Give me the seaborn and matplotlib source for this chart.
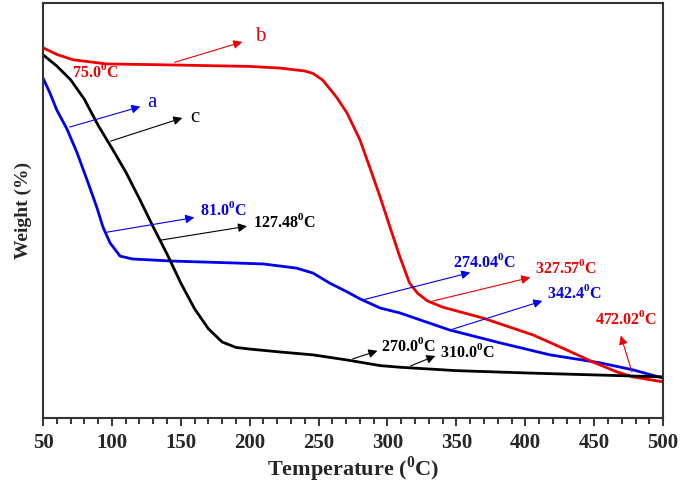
import numpy as np
import pandas as pd
import matplotlib
matplotlib.use('Agg')
import matplotlib.pyplot as plt
from matplotlib.ticker import MultipleLocator
import seaborn as sns

# TGA curves (temperature in C, weight on an arbitrary % scale)
temp_a = [50, 55, 60, 67.4, 74.7, 82, 89, 93.5, 98.6, 105.9, 115, 144, 193, 210, 234, 246, 258,
          270.6, 280, 294.6, 309, 345, 381.6, 418, 454, 478, 500]
weight_a = [81.9, 78.3, 74.2, 69.6, 63.9, 57.3, 50.8, 46.0, 42.2, 39.0, 38.3, 37.8, 37.3, 37.1, 36.1, 34.9, 32.5,
            30.4, 28.7, 26.5, 25.3, 21.2, 18.1, 15.2, 13.3, 11.6, 9.6]

temp_b = [50, 60, 71.8, 96, 135, 200, 222, 240, 246, 253, 263, 270.6, 280, 287, 294.6, 301.8, 309, 316, 322,
          329, 340, 369, 405.6, 430, 449, 466.5, 478, 500]
weight_b = [89.2, 87.6, 86.3, 85.3, 85.1, 84.7, 84.3, 83.6, 83.0, 81.4, 77.3, 73.5, 67.0, 60.5, 53.3, 46.0, 38.8, 32.5, 30.0,
            28.2, 26.7, 24.1, 20.0, 16.4, 13.5, 11.1, 9.9, 8.7]

temp_c = [50, 60, 70, 80, 90, 100, 110, 120, 130, 140, 150, 160, 170, 180, 190, 200, 222, 246, 270,
          295, 310, 350, 405, 500]
weight_c = [87.5, 84.8, 81.5, 76.8, 70.5, 65.0, 59.3, 52.8, 46.0, 39.5, 32.5, 26.3, 21.5, 18.3, 17.0, 16.6, 15.9, 15.2, 14.0,
            12.6, 12.2, 11.4, 10.8, 9.9]

curve_colors = {'a': '#0000ee', 'b': '#ee0000', 'c': '#000000'}

# sample labels with their arrows
label_text = ['b', 'a', 'c']
label_pos = [(203.9, 91.8), (125.5, 75.9), (156.7, 72.5)]
label_tail = [(143.6, 85.5), (67.4, 69.9), (97.2, 66.5)]
label_head = [(196.6, 90.8), (122.6, 75.2), (153.0, 72.5)]
label_color = ['b', 'a', 'c']

# temperature labels with their arrows
temp_text = ['81.0', '127.48', '274.04', '327.57', '342.4', '270.0', '310.0']
temp_pos = [(164, 50.1), (202.4, 47.2), (347.5, 37.6), (407, 36.1), (415.7, 30.1), (295.3, 17.3), (338, 15.9)]
temp_tail = [(93.5, 44.6), (132.7, 42.7), (281.5, 28.4), (330.8, 28.0), (345.4, 21.2), (272.8, 14.0), (314.9, 12.3)]
temp_head = [(161.8, 48.4), (200, 46.3), (362, 35.2), (405.6, 34.0), (414.3, 28.4), (294.6, 16.4), (336.6, 15.2)]
temp_color = ['a', 'c', 'a', 'b', 'a', 'c', 'c']

sns.set_style('ticks')
plt.rcParams['font.family'] = ['Liberation Serif', 'DejaVu Serif']
plt.rcParams['font.weight'] = 'bold'
plt.rcParams['axes.labelweight'] = 'bold'
plt.rcParams['mathtext.fontset'] = 'custom'
plt.rcParams['mathtext.rm'] = 'Liberation Serif:bold'
plt.rcParams['mathtext.bf'] = 'Liberation Serif:bold'

fig = plt.figure(figsize=(6.85, 4.86), dpi=100)
ax = fig.add_axes([0.0628, 0.140, 0.9052, 0.854])

curves = pd.concat([
    pd.DataFrame({'Temperature': temp_a, 'Weight': weight_a, 'sample': 'a'}),
    pd.DataFrame({'Temperature': temp_b, 'Weight': weight_b, 'sample': 'b'}),
    pd.DataFrame({'Temperature': temp_c, 'Weight': weight_c, 'sample': 'c'}),
])
sns.lineplot(data=curves, x='Temperature', y='Weight', hue='sample',
             palette=curve_colors, linewidth=2, legend=False, ax=ax, sort=False)
for ln in ax.lines:
    ln.set_solid_joinstyle('round')

arrow = dict(arrowstyle='-|>', lw=0.8, mutation_scale=13)

for txt, pos, tail, head, c in zip(label_text, label_pos, label_tail, label_head, label_color):
    col = curve_colors[c]
    ax.annotate('', xy=head, xytext=tail, arrowprops=dict(arrow, color=col))
    ax.text(pos[0], pos[1], txt, color=col, fontsize=15, fontweight='normal', va='center', ha='left')

for txt, pos, tail, head, c in zip(temp_text, temp_pos, temp_tail, temp_head, temp_color):
    col = curve_colors[c]
    ax.annotate('', xy=head, xytext=tail, arrowprops=dict(arrow, color=col))
    ax.text(pos[0], pos[1], txt + r'$^{0}$C', color=col, fontsize=11.5, va='center', ha='left')

# label without an arrow
ax.text(71, 83.4, '75.0' + r'$^{0}$C', color=curve_colors['b'], fontsize=11.5, va='center', ha='left')

# 472.02 label sits above its upward arrow
ax.annotate('', xy=(468.7, 20.5), xytext=(478, 10.4), arrowprops=dict(arrow, color=curve_colors['b']))
ax.text(473, 23.9, '472.02' + r'$^{0}$C', color=curve_colors['b'], fontsize=11.5, va='center', ha='center')

ax.set_xlim(50, 500)
ax.set_ylim(0, 100)
ax.xaxis.set_major_locator(MultipleLocator(50))
ax.xaxis.set_minor_locator(MultipleLocator(10))
ax.set_yticks([])
ax.tick_params(axis='x', which='major', direction='out', length=6, width=1.3, labelsize=15, pad=5)
ax.tick_params(axis='x', which='minor', direction='out', length=4, width=1.3)
for s in ax.spines.values():
    s.set_linewidth(1.5)
    s.set_color('#333333')

ax.set_xlabel('Temperature (' + r'$^{0}$' + 'C)', fontsize=16, fontweight='bold', labelpad=1)
ax.set_ylabel('Weight (%)', fontsize=14, fontweight='bold', labelpad=8)

fig.savefig('out.png', dpi=100)
